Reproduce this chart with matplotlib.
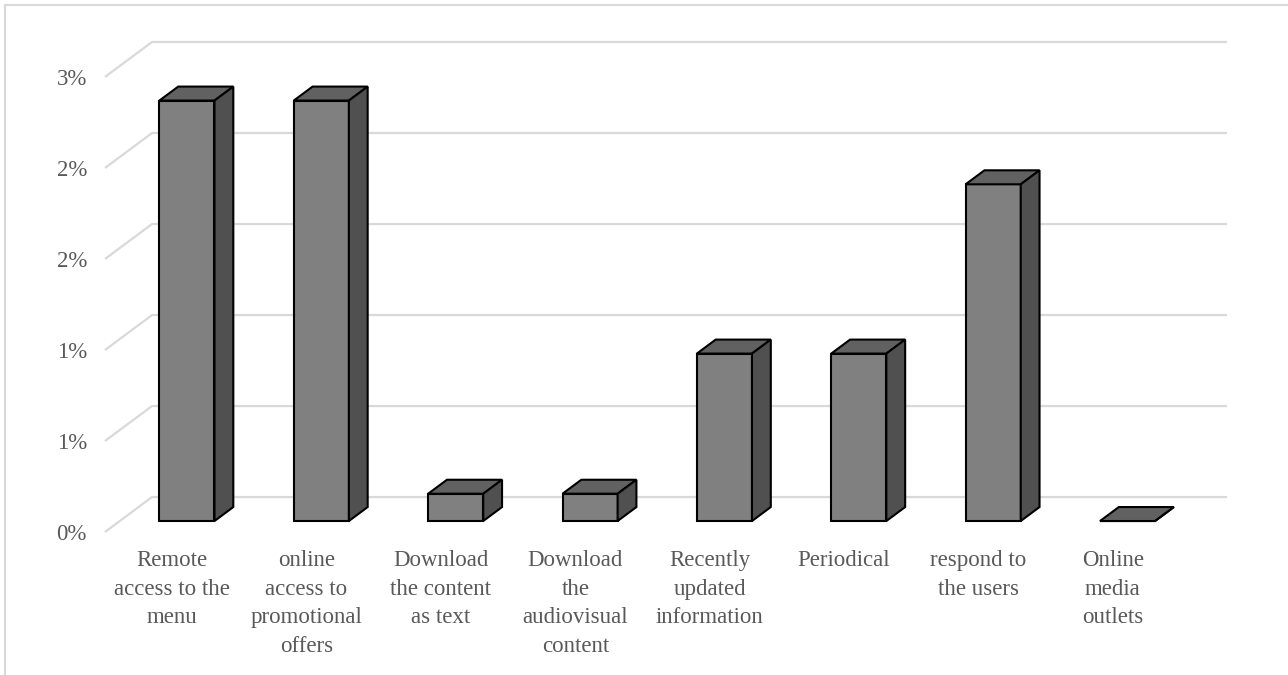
import matplotlib
matplotlib.use("Agg")
import matplotlib.pyplot as plt
from matplotlib.patches import Polygon
from matplotlib.lines import Line2D

# Share of responses per website feature (percent)
categories = [
    "Remote\naccess to the\nmenu",
    "online\naccess to\npromotional\noffers",
    "Download\nthe content\nas text",
    "Download\nthe\naudiovisual\ncontent",
    "Recently\nupdated\ninformation",
    "Periodical",
    "respond to\nthe users",
    "Online\nmedia\noutlets",
]
values = [2.31, 2.31, 0.15, 0.15, 0.92, 0.92, 1.85, 0.0]

y_ticks = [0.0, 0.5, 1.0, 1.5, 2.0, 2.5]
y_tick_labels = ["0%", "1%", "1%", "2%", "2%", "3%"]

# Oblique 3-D look: depth of the floor expressed in data units
DEPTH_X = 0.35     # in category widths
DEPTH_Y = 0.192    # in percent
BAR_W = 0.41       # bar width as a fraction of the category
FRONT_F = 0.314    # bar front face position along the depth
BACK_F = 0.714     # bar back face position along the depth

FRONT_C = "#808080"
TOP_C = "#616161"
SIDE_C = "#505050"
GRID_C = "#d9d9d9"
TEXT_C = "#595959"

plt.rcParams["font.family"] = ["Liberation Serif", "DejaVu Serif"]

fig = plt.figure(figsize=(12.88, 6.75), dpi=100)
ax = fig.add_axes([105 / 1288, (675 - 532) / 675, (1227 - 105) / 1288, (532 - 42) / 675])

n = len(categories)
ax.set_xlim(0, n + DEPTH_X)
ax.set_ylim(0, y_ticks[-1] + DEPTH_Y)

# Gridlines on the side wall and back wall
for t in y_ticks:
    ax.add_line(Line2D([0, DEPTH_X, n + DEPTH_X], [t, t + DEPTH_Y, t + DEPTH_Y],
                       color=GRID_C, lw=1.6, zorder=1, clip_on=False,
                       solid_capstyle="butt"))

# 3-D columns
dx = (BACK_F - FRONT_F) * DEPTH_X
dy = (BACK_F - FRONT_F) * DEPTH_Y
for i, v in enumerate(values):
    x0 = i + 0.5 - BAR_W / 2 + FRONT_F * DEPTH_X
    x1 = x0 + BAR_W
    y0 = FRONT_F * DEPTH_Y
    y1 = y0 + v
    faces = [
        ([(x0, y0), (x1, y0), (x1, y1), (x0, y1)], FRONT_C),
        ([(x0, y1), (x1, y1), (x1 + dx, y1 + dy), (x0 + dx, y1 + dy)], TOP_C),
        ([(x1, y0), (x1 + dx, y0 + dy), (x1 + dx, y1 + dy), (x1, y1)], SIDE_C),
    ]
    for pts, col in faces:
        ax.add_patch(Polygon(pts, closed=True, facecolor=col, edgecolor="black",
                             lw=1.5, joinstyle="miter", zorder=3 + i * 0.01,
                             clip_on=False))

ax.set_yticks(y_ticks, y_tick_labels)
ax.set_xticks([i + 0.5 for i in range(n)], categories)
ax.tick_params(axis="y", length=0, pad=13, labelsize=16.5, labelcolor=TEXT_C)
ax.tick_params(axis="x", length=0, pad=13, labelsize=16.5, labelcolor=TEXT_C)
for lab in ax.get_xticklabels():
    lab.set_linespacing(1.47)
for s in ax.spines.values():
    s.set_visible(False)
ax.set_facecolor("none")

# Light chart-area border
fig.add_artist(Line2D([4.5 / 1288, 1.0], [1 - 4.5 / 675, 1 - 4.5 / 675],
                      transform=fig.transFigure, color=GRID_C, lw=1.5))
fig.add_artist(Line2D([5 / 1288, 5 / 1288], [0, 1 - 4.5 / 675],
                      transform=fig.transFigure, color=GRID_C, lw=1.5))

fig.savefig("out.png", dpi=100, facecolor="white")
